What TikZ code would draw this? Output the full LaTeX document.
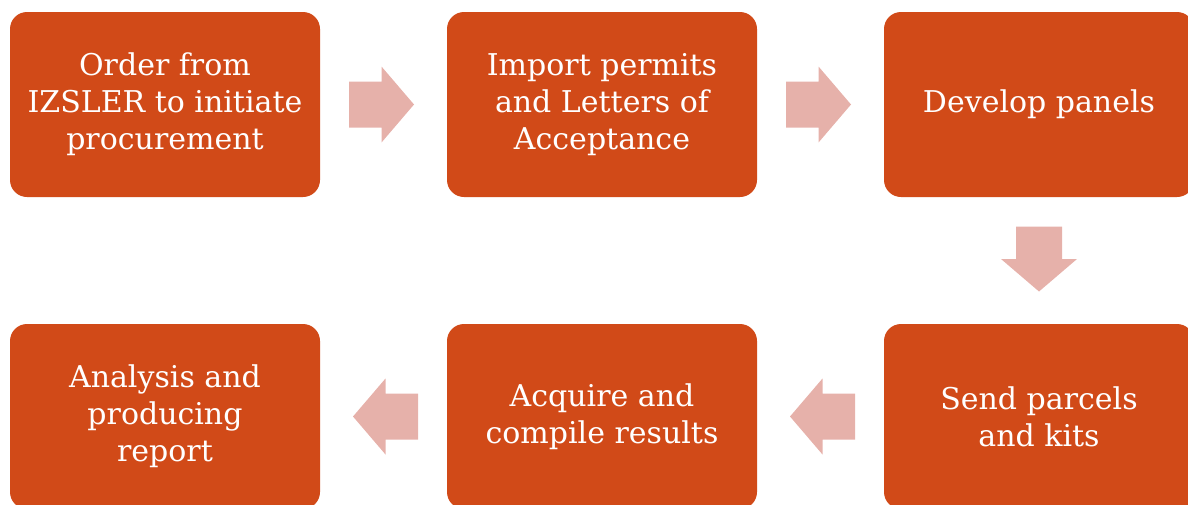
\documentclass[tikz,border=0pt]{standalone}
\usepackage{fontspec}
\setmainfont{DejaVu Serif}
\usetikzlibrary{calc}
\definecolor{boxor}{HTML}{D14A18}
\definecolor{arrpink}{HTML}{E6B1AA}
\tikzset{
  stepbox/.style={rectangle, rounded corners=17pt, fill=boxor, minimum width=310pt,
    minimum height=185pt, text=white, align=center, inner sep=0pt,
    font=\fontsize{30}{37}\selectfont},
  blockarrow/.style={fill=arrpink, draw=none}
}
\newcommand{\blockarr}[2]{%
  \fill[blockarrow, shift={(#1)}, rotate=#2]
    (-32.5,-23) -- (0,-23) -- (0,-38) -- (32.5,0) -- (0,38) -- (0,23) -- (-32.5,23) -- cycle;}
\begin{document}
\begin{tikzpicture}[x=1pt, y=-1pt]
  \useasboundingbox (0,0) rectangle (1188,504);
  \clip (0,0) rectangle (1188,504);
  \node[stepbox] (b1) at (165,104.5) {Order from\\IZSLER to initiate\\procurement};
  \node[stepbox] (b2) at (602,104.5) {Import permits\\and Letters of\\Acceptance};
  \node[stepbox] (b3) at (1039,104.5) {Develop panels};
  \node[stepbox] (b4) at (1039,416.5) {Send parcels\\and kits};
  \node[stepbox] (b5) at (602,416.5) {Acquire and\\compile results};
  \node[stepbox] (b6) at (165,416.5) {Analysis and\\producing\\report};
  \coordinate (a1) at ($(b1.east)!0.5!(b2.west)+(-2,0)$);
  \coordinate (a2) at ($(b2.east)!0.5!(b3.west)+(-2,0)$);
  \coordinate (a3) at ($(b3.south)!0.5!(b4.north)+(0,-1.5)$);
  \coordinate (a4) at ($(b4.west)!0.5!(b5.east)+(2,0)$);
  \coordinate (a5) at ($(b5.west)!0.5!(b6.east)+(2,0)$);
  \blockarr{a1}{0}
  \blockarr{a2}{0}
  \blockarr{a3}{-90}
  \blockarr{a4}{180}
  \blockarr{a5}{180}
\end{tikzpicture}
\end{document}
